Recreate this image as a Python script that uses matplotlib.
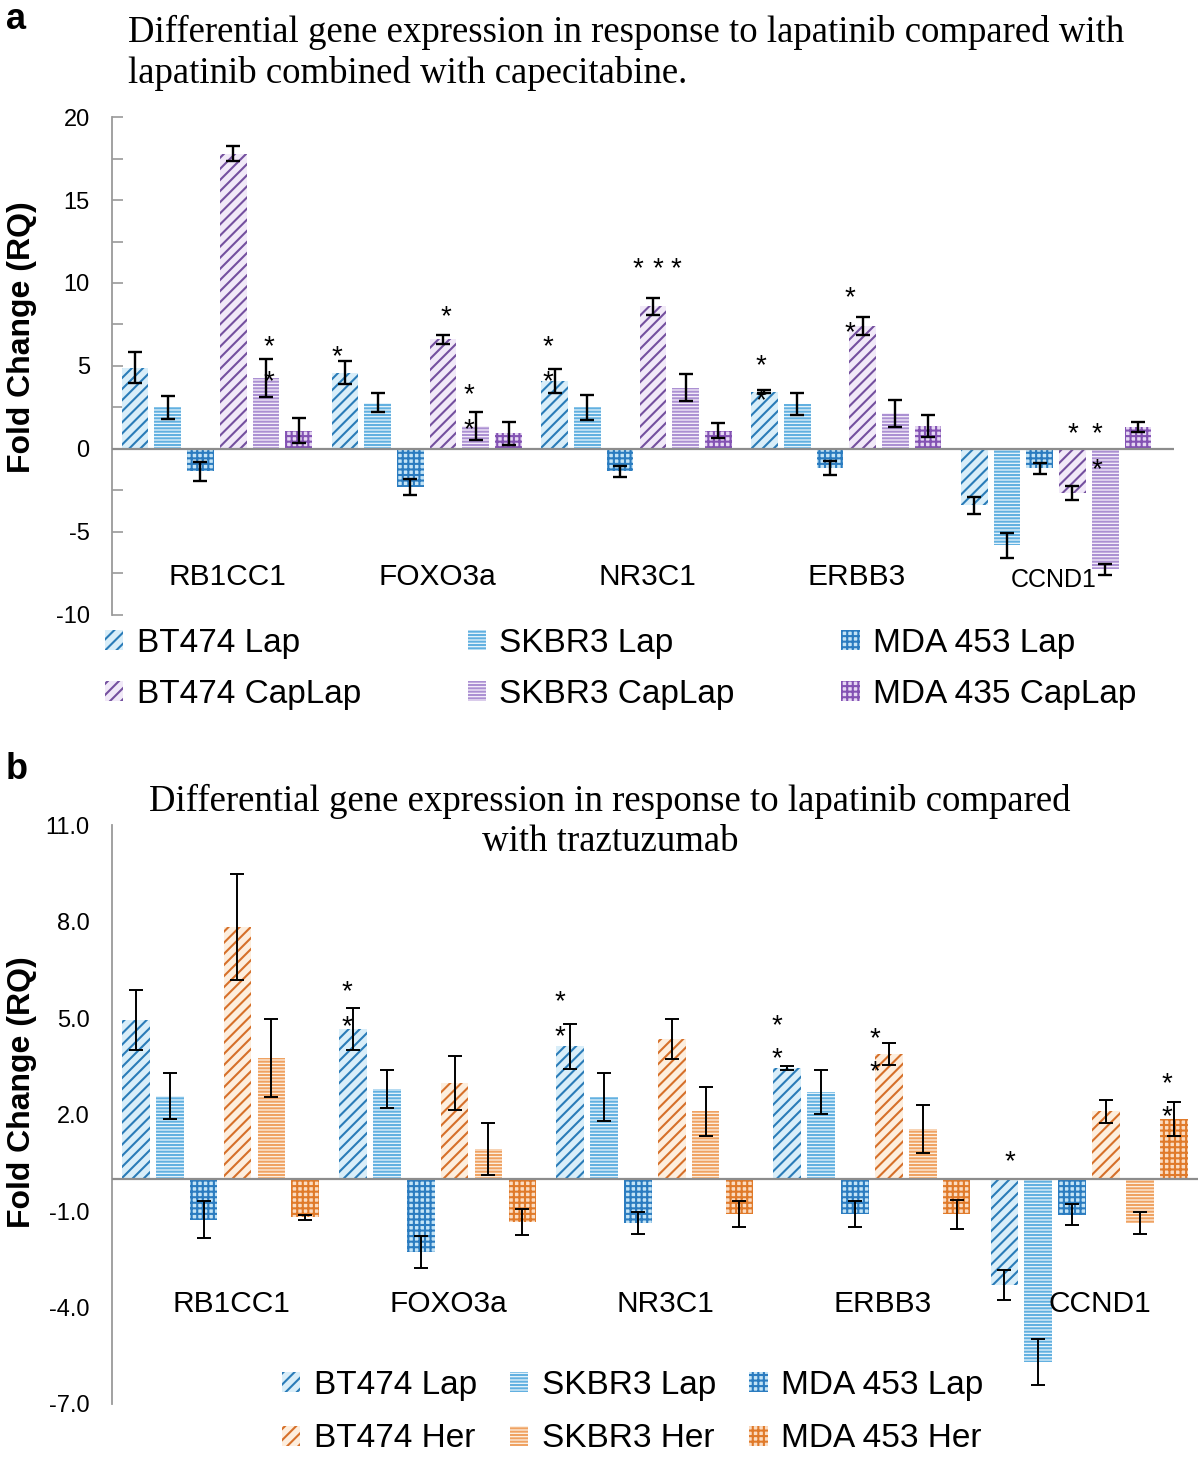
import numpy as np
import matplotlib.pyplot as plt
from matplotlib.patches import Patch
from matplotlib.ticker import MultipleLocator

plt.rcParams['font.family'] = ['Liberation Sans', 'DejaVu Sans']
plt.rcParams['hatch.linewidth'] = 1.5
plt.rcParams['axes.unicode_minus'] = False

genes = ["RB1CC1", "FOXO3a", "NR3C1", "ERBB3", "CCND1"]

# panel a: lapatinib vs lapatinib + capecitabine
labels_a = ["BT474 Lap", "SKBR3 Lap", "MDA 453 Lap",
            "BT474 CapLap", "SKBR3 CapLap", "MDA 435 CapLap"]
values_a = [
    [4.9, 4.6, 4.1, 3.45, -3.4],
    [2.5, 2.8, 2.5, 2.7, -5.8],
    [-1.35, -2.3, -1.35, -1.15, -1.15],
    [17.8, 6.6, 8.6, 7.4, -2.65],
    [4.3, 1.4, 3.7, 2.15, -7.25],
    [1.1, 0.95, 1.1, 1.4, 1.3],
]
errors_a = [
    [0.95, 0.7, 0.7, 0.1, 0.5],
    [0.7, 0.6, 0.75, 0.65, 0.75],
    [0.55, 0.5, 0.35, 0.42, 0.33],
    [0.45, 0.25, 0.5, 0.55, 0.4],
    [1.15, 0.85, 0.8, 0.8, 0.35],
    [0.75, 0.7, 0.45, 0.65, 0.3],
]
# (gene, series position, y)
stars_a = [(0, 4.1, 6.5), (0, 4.1, 4.4), (1, -0.25, 5.9), (1, 3.1, 8.3),
           (1, 3.8, 3.6), (1, 3.8, 1.5), (2, -0.2, 6.5), (2, -0.2, 4.4),
           (2, 2.55, 11.2), (2, 3.15, 11.2), (2, 3.7, 11.2),
           (3, -0.1, 5.35), (3, -0.1, 3.25), (3, 2.62, 9.45), (3, 2.62, 7.35),
           (4, 3.0, 1.27), (4, 3.75, 1.27), (4, 3.75, -0.9)]

# panel b: lapatinib vs traztuzumab
labels_b = ["BT474 Lap", "SKBR3 Lap", "MDA 453 Lap",
            "BT474 Her", "SKBR3 Her", "MDA 453 Her"]
values_b = [
    [4.94, 4.66, 4.13, 3.45, -3.3],
    [2.58, 2.8, 2.55, 2.7, -5.7],
    [-1.27, -2.27, -1.37, -1.1, -1.12],
    [7.83, 2.98, 4.35, 3.88, 2.1],
    [3.76, 0.93, 2.1, 1.55, -1.37],
    [-1.2, -1.35, -1.1, -1.1, 1.85],
]
errors_b = [
    [0.92, 0.64, 0.7, 0.05, 0.47],
    [0.71, 0.6, 0.75, 0.67, 0.72],
    [0.57, 0.5, 0.35, 0.4, 0.33],
    [1.65, 0.85, 0.63, 0.33, 0.36],
    [1.22, 0.8, 0.76, 0.75, 0.33],
    [0.08, 0.4, 0.4, 0.45, 0.53],
]
stars_b = [(1, -0.17, 6.0), (1, -0.17, 4.9), (2, -0.3, 5.7), (2, -0.3, 4.6),
           (3, -0.3, 4.95), (3, -0.3, 3.9), (3, 2.6, 4.55), (3, 2.6, 3.5),
           (4, 0.15, 0.7), (4, 4.8, 3.15), (4, 4.8, 2.1)]

blue = dict(diag=('#d9eef9', '#2a7cb8'), hor=('#eaf6fc', '#62b0e0'), chk=('#c4e4f6', '#2b7cc0'))
purple = dict(diag=('#f1e9f8', '#74509f'), hor=('#f7f1fb', '#ab90d2'), chk=('#e6d8f3', '#8352b3'))
orange = dict(diag=('#fdeede', '#d6702a'), hor=('#fdf2e6', '#efa262'), chk=('#fbdcc2', '#e07a2a'))
hatches = dict(diag='///', hor='-----', chk='+++')
kinds = ['diag', 'hor', 'chk']

STEP = 0.156
WIDTH = 0.127


def xpos(g, s):
    return g + 0.5 + (s - 2.5) * STEP


def style(s, second):
    pal = blue if s < 3 else second
    kind = kinds[s % 3]
    fill, stroke = pal[kind]
    return fill, stroke, hatches[kind]


def draw_panel(ax, values, errors, stars, second, elw):
    x = np.arange(len(genes))
    handles = []
    for s in range(6):
        fill, stroke, h = style(s, second)
        ax.bar(xpos(x, s), values[s], WIDTH, color=fill, edgecolor=stroke,
               linewidth=0, hatch=h, zorder=2)
        ax.errorbar(xpos(x, s), values[s], yerr=errors[s], fmt='none',
                    ecolor='black', elinewidth=elw, capsize=5, capthick=elw, zorder=4)
        handles.append(Patch(facecolor=fill, edgecolor=stroke, hatch=h, linewidth=0))
    for g, s, y in stars:
        ax.annotate('*', (xpos(g, s), y), xytext=(0, -4.5), textcoords='offset points',
                    ha='center', va='center', fontsize=20, zorder=5)
    ax.axhline(0, color='#8c8c8c', lw=1.6, zorder=3)
    ax.set_xticks([])
    for side in ['top', 'right', 'bottom']:
        ax.spines[side].set_visible(False)
    ax.spines['left'].set_color('#9a9a9a')
    ax.spines['left'].set_linewidth(1.3)
    return handles


fig = plt.figure(figsize=(12, 14.59), dpi=100)

# ---- panel a
ax_a = fig.add_axes([0.0933, 0.5785, 0.978 - 0.0933, 0.9198 - 0.5785])
h_a = draw_panel(ax_a, values_a, errors_a, stars_a, purple, 1.7)
ax_a.set_xlim(0, 5.06)
ax_a.set_ylim(-10, 20)
ax_a.set_yticks(range(-10, 21, 5))
ax_a.yaxis.set_minor_locator(MultipleLocator(2.5))
ax_a.tick_params(axis='y', which='both', direction='in', length=8, width=1.2,
                 color='#9a9a9a', labelsize=17, pad=16)
for g, name in enumerate(genes):
    if name == "CCND1":
        ax_a.text(g + 0.49, -7.9, name, ha='center', va='center', fontsize=18)
    else:
        ax_a.text(g + 0.55, -7.7, name, ha='center', va='center', fontsize=21.5)

order = [0, 3, 1, 4, 2, 5]
fig.legend([h_a[i] for i in order], [labels_a[i] for i in order], ncol=3,
           loc='center left', bbox_to_anchor=(105 / 1200, 1 - 669 / 1459),
           frameon=False, fontsize=24, handlelength=0.55, handleheight=0.55,
           handletextpad=0.4, columnspacing=3.2, labelspacing=0.6,
           borderpad=0, borderaxespad=0)

fig.text(128 / 1200, 1 - 15 / 1459,
         "Differential gene expression in response to lapatinib compared with\n"
         "lapatinib combined with capecitabine.",
         family=['Liberation Serif'], fontsize=26.5, ha='left', va='top', linespacing=1.22)
fig.text(6 / 1200, 1 - 2 / 1459, 'a', fontsize=26, weight='bold', ha='left', va='top')
fig.text(22 / 1200, 1 - 337 / 1459, 'Fold Change (RQ)', rotation=90, ha='center',
         va='center', fontsize=23, weight='bold')

# ---- panel b
ax_b = fig.add_axes([0.0933, 0.0377, 0.998 - 0.0933, 0.4345 - 0.0377])
h_b = draw_panel(ax_b, values_b, errors_b, stars_b, orange, 1.4)
ax_b.set_xlim(0, 5)
ax_b.set_ylim(-7, 11)
ax_b.set_yticks(np.arange(-7, 11.1, 3))
ax_b.set_yticklabels([f"{v:.1f}" for v in np.arange(-7, 11.1, 3)])
ax_b.tick_params(axis='y', length=0, labelsize=17, pad=16)
for g, name in enumerate(genes):
    ax_b.text(g + 0.55, -3.9, name, ha='center', va='center', fontsize=21.5)

fig.legend([h_b[i] for i in order], [labels_b[i] for i in order], ncol=3,
           loc='center left', bbox_to_anchor=(282 / 1200, 1 - 1412 / 1459),
           frameon=False, fontsize=24, handlelength=0.55, handleheight=0.55,
           handletextpad=0.4, columnspacing=1.0, labelspacing=0.68,
           borderpad=0, borderaxespad=0)

fig.text(610 / 1200, 1 - 784 / 1459,
         "Differential gene expression in response to lapatinib compared\n"
         "with traztuzumab",
         family=['Liberation Serif'], fontsize=26.5, ha='center', va='top', linespacing=1.22)
fig.text(6 / 1200, 1 - 752 / 1459, 'b', fontsize=26, weight='bold', ha='left', va='top')
fig.text(22 / 1200, 1 - 1092 / 1459, 'Fold Change (RQ)', rotation=90, ha='center',
         va='center', fontsize=23, weight='bold')

fig.savefig('out.png', dpi=100)
